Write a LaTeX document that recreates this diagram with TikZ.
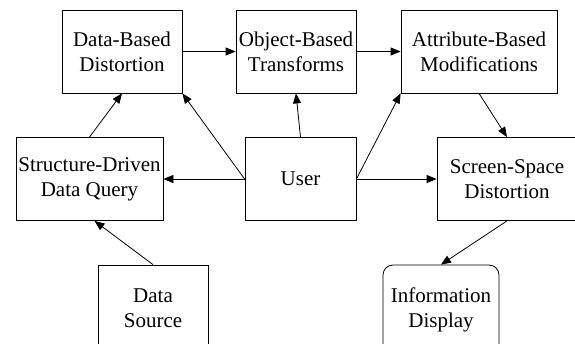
\documentclass[tikz,border=0pt]{standalone}
\usepackage{fontspec}
\setmainfont{Liberation Serif}
\usetikzlibrary{arrows.meta}

\begin{document}
\begin{tikzpicture}[x=1bp,y=-1bp,
        stage/.style={draw=black,line width=0.8bp,inner sep=0pt,align=center,
            minimum height=83bp,font=\fontsize{21bp}{25bp}\selectfont},
        >={Triangle[length=10bp,width=8bp]}]
    \useasboundingbox (0,0) rectangle (575,343);
    \clip (0,0) rectangle (575,343);
    \fill[white] (0,0) rectangle (575,343);

    % top row
    \node[stage,minimum width=120bp] (dbd) at (122,51.5) {Data-Based\\Distortion};
    \node[stage,minimum width=120bp] (obt) at (296,51.5) {Object-Based\\Transforms};
    \node[stage,minimum width=156bp] (abm) at (479,51.5) {Attribute-Based\\Modifications};

    % middle row
    \node[stage,minimum width=147bp] (sdq) at (89.5,179) {Structure-Driven\\Data Query};
    \node[stage,minimum width=111bp] (user) at (300.5,179) {User};
    \node[stage,minimum width=140bp] (ssd) at (507,179) {Screen-Space\\Distortion};

    % bottom row, runs off the page
    \node[stage,minimum width=110bp,minimum height=86bp] (dsrc) at (153,308) {Data\\Source};
    \node[stage,minimum width=116bp,minimum height=100bp,text depth=14bp,rounded corners=10bp] (info) at (441,315) {Information\\Display};

    \path [->,line width=0.8bp] (dbd) edge (obt);
    \path [->,line width=0.8bp] (obt) edge (abm);
    \path [->,line width=0.8bp] (sdq.north) edge (dbd.south);
    \path [->,line width=0.8bp] (user.west) edge (dbd.south east);
    \path [->,line width=0.8bp] (user.west) edge (sdq.east);
    \path [->,line width=0.8bp] (user.north) edge (obt.south);
    \path [->,line width=0.8bp] (user.east) edge (abm.south west);
    \path [->,line width=0.8bp] (user.east) edge (ssd.west);
    \path [->,line width=0.8bp] (abm.south) edge (ssd.north);
    \path [->,line width=0.8bp] (ssd.south) edge (info.north);
    \path [->,line width=0.8bp] (dsrc.north) edge ([xshift=5bp]sdq.south);
\end{tikzpicture}
\end{document}
